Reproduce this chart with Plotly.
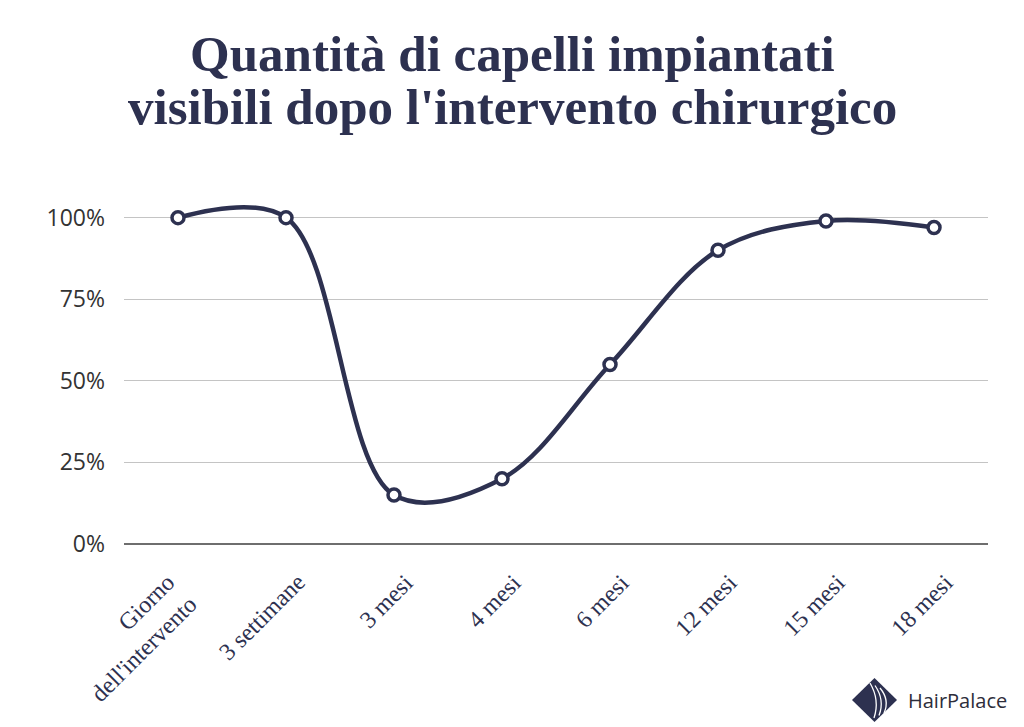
import plotly.graph_objects as go

# --- Datos ---
periodi = ["Giorno<br>dell'intervento", "3 settimane", "3 mesi", "4 mesi",
           "6 mesi", "12 mesi", "15 mesi", "18 mesi"]
capelli_visibili = [100, 100, 15, 20, 55, 90, 99, 97]
tick_valori = [0, 25, 50, 75, 100]
tick_etichette = ["0%", "25%", "50%", "75%", "100%"]

COLORE = '#2d3150'

# la pagina aggiunge 8px di margine al body: figura ridotta di conseguenza
L, R, T, B = 116, 36, 177, 183
W, H = 1016, 719

fig = go.Figure()

fig.add_trace(go.Scatter(
    x=list(range(len(periodi))),
    y=capelli_visibili,
    mode='lines+markers',
    line=dict(color=COLORE, width=4.5, shape='spline', smoothing=1.0),
    marker=dict(size=12, color='white', line=dict(color=COLORE, width=3.5)),
    cliponaxis=False,
    showlegend=False
))

fig.update_layout(
    width=W,
    height=H,
    paper_bgcolor='white',
    plot_bgcolor='white',
    margin=dict(l=L, r=R, t=T, b=B),
    xaxis=dict(
        range=[-0.5, 7.5],
        showgrid=False,
        showline=False,
        zeroline=False,
        showticklabels=False,
        ticks='',
    ),
    yaxis=dict(
        range=[0, 110],
        tickvals=tick_valori,
        ticktext=tick_etichette,
        showgrid=True,
        gridcolor='#c4c4c4',
        gridwidth=1,
        zeroline=True,
        zerolinecolor='#6e6e6e',
        zerolinewidth=2,
        ticklabelstandoff=18,
        tickfont=dict(family='Open Sans', size=23, color='#333333'),
    ),
)


def py(pixel_y):
    # da pixel della pagina a coordinate paper (asse y)
    return (H - B - (pixel_y - 8)) / (H - T - B)


def px(pixel_x):
    return (pixel_x - 8 - L) / (W - L - R)


# titolo su due righe
for riga, ymid in [("Quantità di capelli impiantati", 54),
                   ("visibili dopo l'intervento chirurgico", 107)]:
    fig.add_annotation(text="<b>" + riga + "</b>", xref='paper', yref='paper',
                       x=px(512), y=py(ymid), xanchor='center', yanchor='middle',
                       showarrow=False,
                       font=dict(family='Liberation Serif', size=51, color=COLORE))

# etichette asse x ruotate
for i, etichetta in enumerate(periodi):
    fig.add_annotation(text=etichetta, x=i, xref='x', yref='paper', y=py(566),
                       xanchor='right', yanchor='top', xshift=27,
                       textangle=-45, showarrow=False, align='right',
                       font=dict(family='Liberation Serif', size=24, color=COLORE))

# logo HairPalace
x0, x1, xc = px(852), px(897), px(874.5)
y0, y1, yc = py(722), py(678), py(700)
fig.add_shape(type='path', xref='paper', yref='paper',
              path=f'M {xc} {y1} L {x1} {yc} L {xc} {y0} L {x0} {yc} Z',
              fillcolor=COLORE, line=dict(width=0))
for dx in (0, 5, 10):
    fig.add_shape(type='path', xref='paper', yref='paper',
                  path=(f'M {px(870 + dx)} {py(683 + dx * 0.5)} '
                        f'Q {px(880 + dx)} {py(700)} {px(874 + dx)} {py(718 - dx * 0.5)}'),
                  line=dict(color='white', width=1.3))
fig.add_annotation(text='HairPalace', xref='paper', yref='paper',
                   x=px(906), y=py(700), xanchor='left', yanchor='middle',
                   showarrow=False,
                   font=dict(family='Open Sans', size=20, color='#2d2d3a'))

fig.write_html("out.html")
